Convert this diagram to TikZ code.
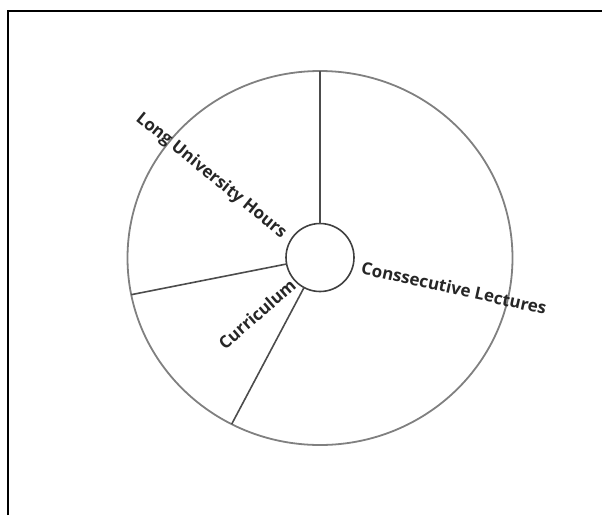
\documentclass[tikz,border=0pt]{standalone}
\usepackage{fontspec}
\setmainfont{Open Sans}
\usepackage{tikz}
\usetikzlibrary{shapes.geometric}

\tikzset{
  spoke/.style={draw=black!70, line width=1.6pt},
  seglabel/.style={font=\fontsize{17}{19}\selectfont\bfseries, text=black!85, inner sep=0pt}
}

\begin{document}
\begin{tikzpicture}[x=1pt, y=-1pt]
        \useasboundingbox (0,0) rectangle (602,515);
        % frame, only top and left visible
        \draw[line width=2.2pt] (8,515) |- (602,11);
        % rim and hub
        \node[ellipse, draw=black!50, line width=1.8pt, minimum width=385pt, minimum height=374pt, inner sep=0pt, outer sep=0pt] (rim) at (320,258) {};
        \node[circle, draw=black!75, line width=1.6pt, minimum size=68pt, inner sep=0pt, outer sep=0pt, fill=white] (hub) at (320,257.5) {};
        % spokes
        \foreach \a in {90, 191.6, 242.8}
            \draw[spoke] (hub.\a) -- (rim.\a);
        % labels
        \node[seglabel, rotate=-39] (hours) at (211,176) {Long University Hours};
        \node[seglabel, rotate=-12.5] (lect) at (454,288) {Conssecutive Lectures};
        \node[seglabel, rotate=41] (curr) at (257,314) {Curriculum};
    \end{tikzpicture}
\end{document}
